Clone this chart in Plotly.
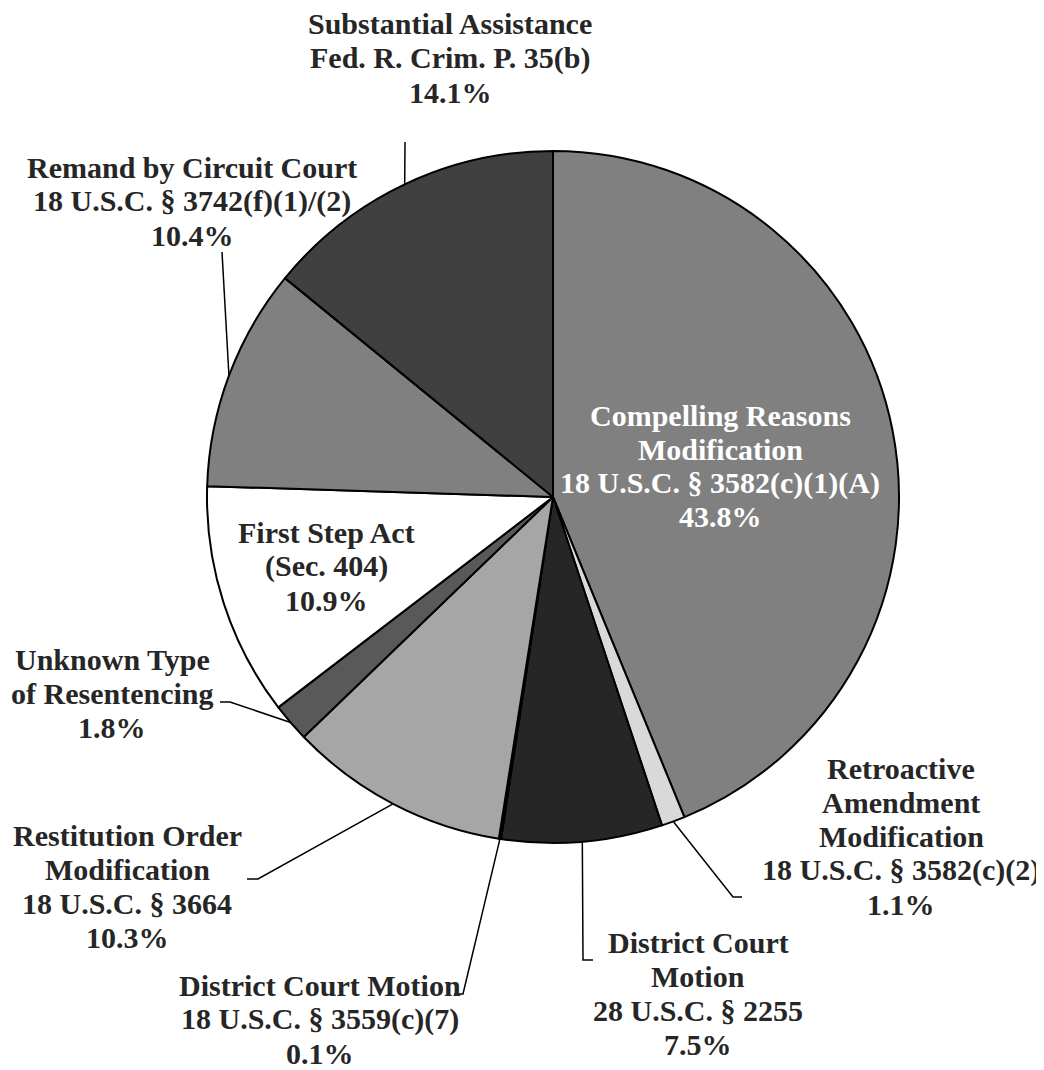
import numpy as np
import plotly.graph_objects as go

# dados do gráfico (fatias no sentido horário a partir das 12h)
categorias = [
    ["Compelling Reasons", "Modification", "18 U.S.C. § 3582(c)(1)(A)"],
    ["Retroactive", "Amendment", "Modification", "18 U.S.C. § 3582(c)(2)"],
    ["District Court", "Motion", "28 U.S.C. § 2255"],
    ["District Court Motion", "18 U.S.C. § 3559(c)(7)"],
    ["Restitution Order", "Modification", "18 U.S.C. § 3664"],
    ["Unknown Type", "of Resentencing"],
    ["First Step Act", "(Sec. 404)"],
    ["Remand by Circuit Court", "18 U.S.C. § 3742(f)(1)/(2)"],
    ["Substantial Assistance", "Fed. R. Crim. P. 35(b)"],
]
percentuais = [43.8, 1.1, 7.5, 0.1, 10.3, 1.8, 10.9, 10.4, 14.1]
cores = ["#808080", "#d9d9d9", "#262626", "#0d0d0d", "#a6a6a6",
         "#595959", "#ffffff", "#808080", "#404040"]

# geometria da página (px da imagem); o div do plotly fica deslocado 8px pela margem do body
W, H = 1044, 1070
DESL = 8
cx, cy, r = 553, 497, 346
entrelinha = 34
fonte = "Liberation Serif, Times New Roman, serif"

# posição de cada rótulo: centro x, primeira linha de base, cor, pontos da linha guia
posicoes = [
    (720, 425, "white", None),
    (901, 778, "#262626", [(733, 897), (742, 897)]),
    (698, 952, "#262626", [(583, 960), (593, 960)]),
    (320, 995, "#262626", [(463, 994), (454, 994)]),
    (127, 845, "#262626", [(258, 879), (247, 879)]),
    (112, 669, "#262626", [(230, 702), (220, 702)]),
    (326, 542, "#262626", None),
    (192, 177, "#262626", [(222, 252)]),
    (450, 34, "#262626", [(405, 142)]),
]


def papel(x, y):
    return (x - DESL) / W, 1 - (y - DESL) / H


fig = go.Figure()
fig.add_trace(go.Pie(
    labels=[" ".join(c) for c in categorias],
    values=percentuais,
    sort=False,
    direction="clockwise",
    rotation=0,
    textinfo="none",
    hoverinfo="label+percent",
    marker=dict(colors=cores, line=dict(color="black", width=2)),
    domain=dict(x=[(cx - r - DESL) / W, (cx + r - DESL) / W],
                y=[1 - (cy + r - DESL) / H, 1 - (cy - r - DESL) / H]),
    showlegend=False,
))

# ângulo médio de cada fatia para a origem das linhas guia
acum = np.cumsum(percentuais)
meio = (acum - np.array(percentuais) / 2) / 100 * 2 * np.pi

anotacoes = []
formas = []
for i, (linhas, v) in enumerate(zip(categorias, percentuais)):
    x0, base, cor, guia = posicoes[i]
    texto = linhas + [f"{v:.1f}%"]
    for k, t in enumerate(texto):
        xp, yp = papel(x0, base + k * entrelinha - 10)
        anotacoes.append(dict(
            x=xp, y=yp, xref="paper", yref="paper", text=t, showarrow=False,
            xanchor="center", yanchor="middle",
            font=dict(family=fonte, size=30, color=cor, weight="bold"),
        ))
    if guia:
        ex = cx + r * np.sin(meio[i])
        ey = cy - r * np.cos(meio[i])
        pts = [papel(ex, ey)] + [papel(a, b) for a, b in guia]
        caminho = "M " + " L ".join(f"{a:.5f},{b:.5f}" for a, b in pts)
        formas.append(dict(type="path", path=caminho, xref="paper", yref="paper",
                           line=dict(color="black", width=1.5)))

fig.update_layout(
    width=W, height=H,
    margin=dict(l=0, r=0, t=0, b=0),
    paper_bgcolor="white",
    plot_bgcolor="white",
    annotations=anotacoes,
    shapes=formas,
)

fig.write_html("out.html")
